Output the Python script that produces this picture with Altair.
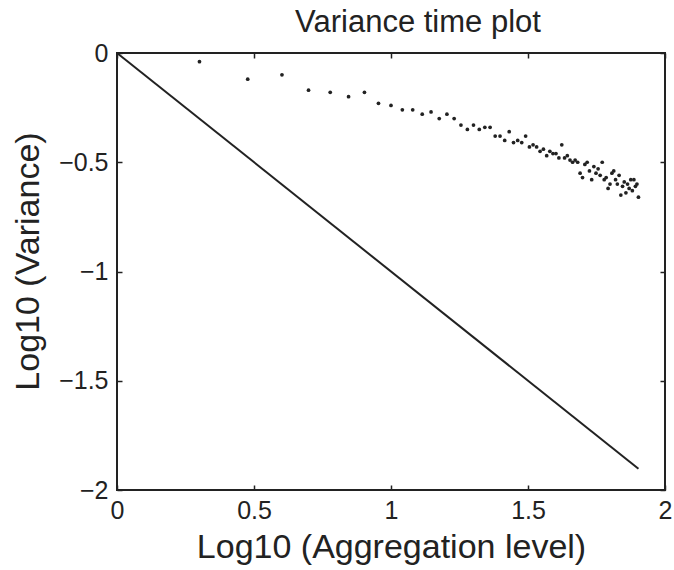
import altair as alt
import numpy as np
import pandas as pd

# Aggregation levels m = 2..80 and read-off log10(variance)
levels = list(range(2, 81))
log_var = [
    -0.04, -0.12, -0.10, -0.17, -0.18, -0.20, -0.18, -0.23, -0.24,      # 2-10
    -0.26, -0.26, -0.28, -0.27, -0.30, -0.28, -0.30, -0.33, -0.35, -0.33,  # 11-20
    -0.35, -0.34, -0.34, -0.38, -0.38, -0.40, -0.36, -0.41, -0.40, -0.41,  # 21-30
    -0.38, -0.43, -0.42, -0.43, -0.45, -0.44, -0.47, -0.45, -0.46, -0.46,  # 31-40
    -0.48, -0.42, -0.48, -0.47, -0.49, -0.50, -0.49, -0.50, -0.55, -0.57,  # 41-50
    -0.51, -0.50, -0.54, -0.58, -0.52, -0.55, -0.53, -0.56, -0.50, -0.58,  # 51-60
    -0.57, -0.62, -0.60, -0.55, -0.54, -0.58, -0.60, -0.56, -0.65, -0.61,  # 61-70
    -0.59, -0.64, -0.60, -0.62, -0.58, -0.63, -0.58, -0.61, -0.60, -0.66,  # 71-80
]

# Reference line of slope -1
line_x = [0.0, 1.9031]
line_y = [0.0, -1.9031]

x_ticks = [0, 0.5, 1, 1.5, 2]
y_ticks = [0, -0.5, -1, -1.5, -2]

pts = pd.DataFrame({"x": np.log10(levels), "y": log_var})
ln = pd.DataFrame({"x": line_x, "y": line_y})

FONT = "Liberation Sans"
INK = "#222222"

xscale = alt.Scale(domain=[0, 2], nice=False, zero=False)
yscale = alt.Scale(domain=[-2, 0], nice=False, zero=False)

common_axis = dict(
    domain=False, grid=False, tickSize=5, tickColor=INK, tickWidth=1.5,
    offset=-5, labelFont=FONT, labelFontSize=25, labelColor=INK,
    titleFont=FONT, titleFontSize=34, titleColor=INK, titleFontWeight="normal",
)

line = alt.Chart(ln).mark_line(color=INK, strokeWidth=2).encode(
    x=alt.X("x:Q", scale=xscale, axis=alt.Axis(
        orient="bottom", values=x_ticks, format="~g", labelPadding=8,
        title="Log10 (Aggregation level)", titleX=274, titleY=62,
        titleAlign="center", titleBaseline="middle", labelFlush=False,
        **common_axis)),
    y=alt.Y("y:Q", scale=yscale, axis=alt.Axis(
        orient="left", values=y_ticks, format="~g", labelPadding=9,
        title="Log10 (Variance)", titleX=-94, titleY=208, titleAngle=270,
        titleAlign="center", titleBaseline="middle", labelFlush=False,
        **common_axis)),
)

points = alt.Chart(pts).mark_circle(color=INK, size=14, opacity=1).encode(
    x=alt.X("x:Q", scale=xscale, axis=alt.Axis(
        orient="top", values=x_ticks, labels=False, title=None, **common_axis)),
    y=alt.Y("y:Q", scale=yscale, axis=alt.Axis(
        orient="right", values=y_ticks, labels=False, title=None, **common_axis)),
)

chart = alt.layer(line, points).resolve_axis(
    x="independent", y="independent"
).properties(
    width=548, height=437,
    title=alt.TitleParams("Variance time plot", font=FONT, fontSize=31,
                          fontWeight="normal", color=INK, anchor="middle",
                          offset=2, dx=27),
    autosize=alt.AutoSizeParams(type="none"),
    padding={"left": 117, "top": 53, "right": 9, "bottom": 80},
).configure(
    background="white"
).configure_view(
    stroke=INK, strokeWidth=2
)

chart.save("out.html", embed_options={"renderer": "svg", "actions": False})
